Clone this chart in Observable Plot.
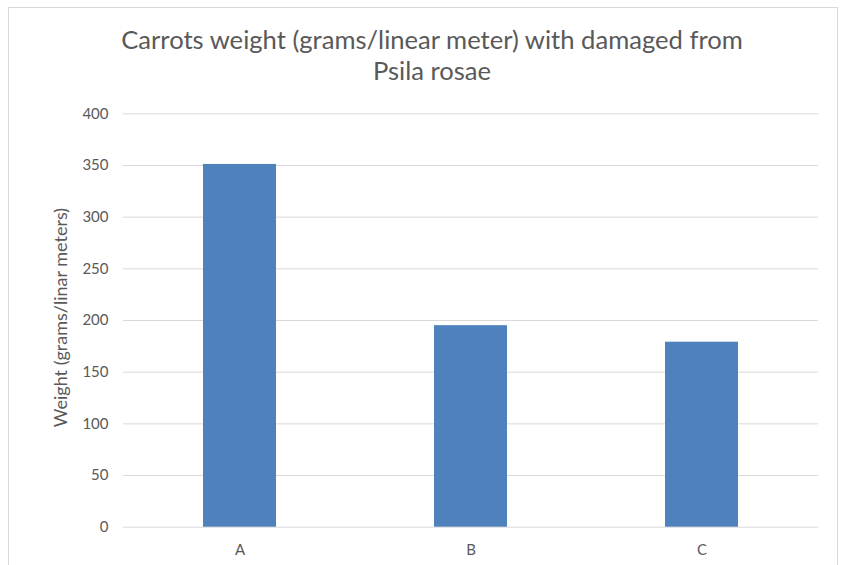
<!DOCTYPE html>
<html>
<head>
<meta charset="utf-8">
<script src="https://cdn.jsdelivr.net/npm/d3@7"></script>
<script src="https://cdn.jsdelivr.net/npm/@observablehq/plot@0.6"></script>
<style>
  html, body { margin: 0; padding: 0; background: #fff; overflow: hidden; }
  #wrap { position: relative; width: 844px; height: 565px; font-family: Lato, "Open Sans", sans-serif; }
  #frame { position: absolute; left: 8px; top: 7px; width: 830px; height: 620px; border: 1px solid #d9d9d9; box-sizing: border-box; }
  #title { position: absolute; left: 0; top: 24px; width: 864px; text-align: center; font-size: 25.6px; line-height: 31px; color: #595959; }
  #chart { position: absolute; left: 0; top: 0; }
  #chart svg text { font-family: Lato, "Open Sans", sans-serif; }
</style>
</head>
<body>
<div id="wrap">
  <div id="frame"></div>
  <div id="chart"></div>
  <div id="title">Carrots weight (grams/linear meter) with damaged from<br>Psila rosae</div>
</div>
<script>
const categories = ["A", "B", "C"];
const weights = [351, 195, 179];
const yTicks = [0, 50, 100, 150, 200, 250, 300, 350, 400];
const yLabel = "Weight (grams/linar meters)";

const data = categories.map((c, i) => ({category: c, weight: weights[i]}));

const chart = Plot.plot({
  width: 844,
  height: 565,
  marginLeft: 123,
  marginRight: 26,
  marginTop: 113.3,
  marginBottom: 38.3,
  style: {background: "transparent", color: "#595959", fontSize: "15px"},
  x: {domain: categories, paddingInner: 0.685, paddingOuter: 0.3425, label: null},
  y: {domain: [0, 400], ticks: yTicks, label: null},
  marks: [
    Plot.gridY(yTicks, {stroke: "#d9d9d9", strokeOpacity: 1, strokeWidth: 1}),
    Plot.barY(data, {x: "category", y: "weight", fill: "#4f81bd"}),
    Plot.axisY(yTicks, {tickSize: 0, tickPadding: 15, fill: "#595959", fontSize: 15}),
    Plot.axisX({tickSize: 0, tickPadding: 17, fill: "#595959", fontSize: 15}),
    Plot.text([yLabel], {frameAnchor: "left", dx: -62, dy: -3, rotate: -90, textAnchor: "middle", fill: "#595959", fontSize: 18, text: d => d})
  ]
});
document.getElementById("chart").appendChild(chart);
</script>
</body>
</html>
